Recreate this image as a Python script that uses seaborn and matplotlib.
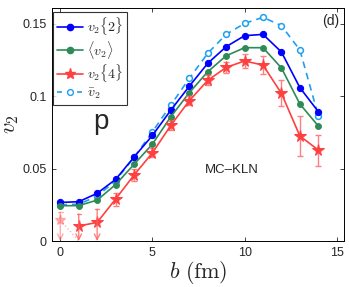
import numpy as np
import pandas as pd
import matplotlib
matplotlib.use("Agg")
import matplotlib.pyplot as plt
import seaborn as sns
from matplotlib.lines import Line2D

# impact parameter b (fm)
b = [0, 1, 2, 3, 4, 5, 6, 7, 8, 9, 10, 11, 12, 13, 14]

v2_2 = [0.0267, 0.0272, 0.0330, 0.0426, 0.0580, 0.0730, 0.0905, 0.1070,
        0.1228, 0.1343, 0.1419, 0.1428, 0.1306, 0.1060, 0.0894]
v2_mean = [0.0244, 0.0245, 0.0283, 0.0390, 0.0530, 0.0670, 0.0860, 0.1025,
           0.1170, 0.1280, 0.1336, 0.1336, 0.1196, 0.0947, 0.0795]
v2_4 = [0.0145, 0.0104, 0.0129, 0.0290, 0.0456, 0.0610, 0.0800, 0.0970,
        0.1110, 0.1200, 0.1244, 0.1216, 0.1020, 0.0726, 0.0629]
v2_4_err = [0.0, 0.0, 0.0, 0.0045, 0.0040, 0.0030, 0.0030, 0.0030,
            0.0035, 0.0040, 0.0050, 0.0060, 0.0090, 0.0140, 0.0107]
# upper ends of the upper-limit bars for the most central bins
v2_4_lim_top = [0.0198, 0.0187, 0.0220]
v2_bar = [0.0250, 0.0255, 0.0310, 0.0417, 0.0578, 0.0755, 0.0940, 0.1124,
          0.1297, 0.1428, 0.1504, 0.1546, 0.1488, 0.1320, 0.0866]

c_blue = "#0000ff"
c_green = "#2e8b57"
c_red = "#ff4040"
c_light = "#1ea0f0"

sns.set_style("white")
plt.rcParams["font.family"] = ["Liberation Sans", "DejaVu Sans"]
plt.rcParams["mathtext.fontset"] = "cm"

fig = plt.figure(figsize=(3.49, 2.87), dpi=100)
ax = fig.add_axes([0.149, 0.16, 0.837, 0.812])

df = pd.DataFrame({"b": b, "v2_2": v2_2, "v2_mean": v2_mean,
                   "v2_4": v2_4, "v2_bar": v2_bar})

sns.lineplot(data=df, x="b", y="v2_bar", ax=ax, color=c_light, lw=1.2,
             linestyle=(0, (4, 3)), marker="o", markersize=4.2,
             markerfacecolor="white", markeredgecolor=c_light, markeredgewidth=1.1)
sns.lineplot(data=df, x="b", y="v2_2", ax=ax, color=c_blue, lw=1.2,
             marker="o", markersize=4.5, markeredgecolor=c_blue)
sns.lineplot(data=df, x="b", y="v2_mean", ax=ax, color=c_green, lw=1.2,
             marker="o", markersize=4.2, markeredgecolor=c_green)

# v2{4}: first bin faded, rest solid
d4 = df.iloc[1:]
ax.errorbar(d4["b"].iloc[2:], d4["v2_4"].iloc[2:], yerr=v2_4_err[3:], fmt="none",
            ecolor="#ff8080", elinewidth=1.0, capsize=2.5, capthick=1.0)
sns.lineplot(data=d4, x="b", y="v2_4", ax=ax, color=c_red, lw=1.2,
             marker="*", markersize=8.5, markeredgecolor=c_red)
ax.plot(b[:2], [v2_4[0], 0.0], color=c_red, alpha=0.4, lw=1, linestyle=":")
ax.plot(b[0], v2_4[0], marker="*", markersize=8, color=c_red, alpha=0.35,
        markeredgecolor=c_red)
for i, top in enumerate(v2_4_lim_top):
    alpha = 0.5 if i == 0 else 0.8
    ax.annotate("", xy=(b[i], 0.0), xytext=(b[i], top),
                arrowprops=dict(arrowstyle="->", color="#ff6060", lw=1.0,
                                alpha=alpha, shrinkA=0, shrinkB=0))
    ax.plot([b[i] - 0.12, b[i] + 0.12], [top, top], color="#ff6060", lw=1.0,
            alpha=alpha)

ax.set_xlim(-0.45, 15.4)
ax.set_ylim(0, 0.161)
ax.set_xticks([0, 5, 10, 15])
ax.set_yticks([0, 0.05, 0.1, 0.15])
ax.set_yticklabels(["0", "0.05", "0.1", "0.15"])
ax.tick_params(direction="in", length=3, width=0.6, labelsize=9,
               top=True, right=True, bottom=True, left=True, pad=4)
for s in ax.spines.values():
    s.set_color("black")
    s.set_linewidth(0.7)

ax.set_xlabel("$b\\ \\mathrm{(fm)}$", fontsize=16, labelpad=0)
ax.set_ylabel("$v_2$", fontsize=16)
ax.yaxis.set_label_coords(-0.105, 0.5)

ax.text(2.2, 0.082, "p", fontsize=20, ha="center", va="center")
ax.text(9.3, 0.049, "MC\u2013KLN", fontsize=9.5, ha="center", va="center")
ax.text(0.985, 0.975, "(d)", transform=ax.transAxes, fontsize=10,
        ha="right", va="top")

handles = [
    Line2D([], [], color=c_blue, lw=1.2, marker="o", markersize=4.5),
    Line2D([], [], color=c_green, lw=1.2, marker="o", markersize=4.5),
    Line2D([], [], color=c_red, lw=1.2, marker="*", markersize=8),
    Line2D([], [], color=c_light, lw=1.2, linestyle=(0, (3, 3)), marker="o",
           markersize=4.2, markerfacecolor="white"),
]
labels = ["$v_2\\{2\\}$", "$\\langle v_2\\rangle$", "$v_2\\{4\\}$", "$\\bar{v}_2$"]
leg = ax.legend(handles, labels, loc="upper left", bbox_to_anchor=(0.005, 0.985),
                fontsize=10, frameon=True, fancybox=False, handlelength=1.9,
                handletextpad=0.3, borderpad=0.25, labelspacing=0.12,
                borderaxespad=0)
leg.get_frame().set_edgecolor("black")
leg.get_frame().set_linewidth(0.8)

fig.savefig("out.png", dpi=100)
